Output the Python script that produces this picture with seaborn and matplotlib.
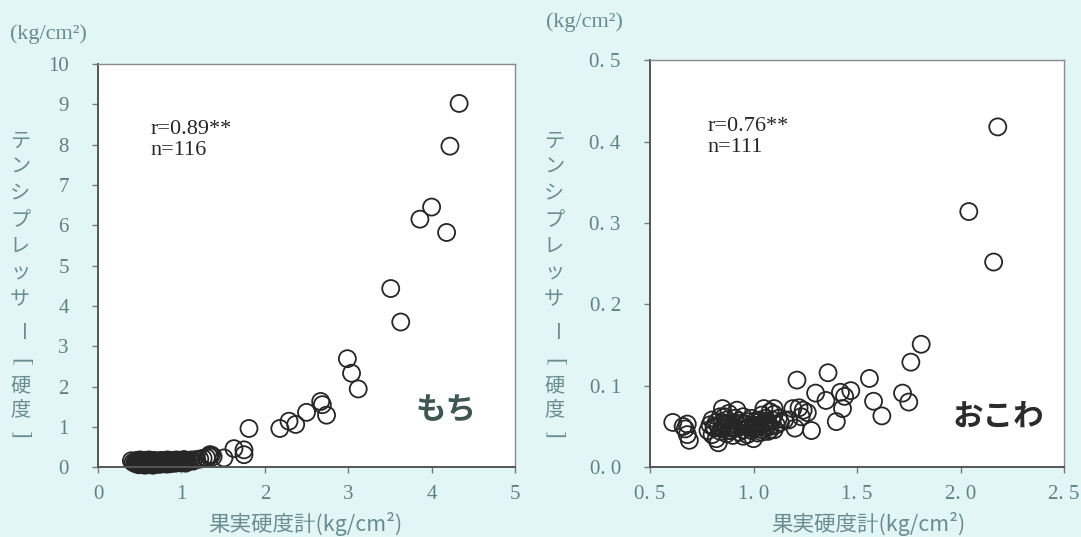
import matplotlib
matplotlib.use("Agg")
import matplotlib.pyplot as plt
import seaborn as sns
import numpy as np

# もち panel data (fruit hardness meter vs tensipresser)
mochi_x = [4.33, 4.22, 4.00, 3.86, 4.18, 3.51, 3.63, 2.99, 3.04, 3.12,
           2.67, 2.69, 2.74, 2.50, 2.29, 2.37, 2.18, 1.81, 1.63, 1.75,
           1.75, 1.51, 1.36, 1.33, 1.30, 1.26, 1.22, 1.18, 1.38, 1.34,
           0.40, 0.42, 0.44, 0.45, 0.46, 0.47, 0.48, 0.49, 0.50, 0.50,
           0.51, 0.52, 0.53, 0.54, 0.55, 0.55, 0.56, 0.57, 0.58, 0.58,
           0.59, 0.60, 0.60, 0.61, 0.62, 0.63, 0.63, 0.64, 0.65, 0.66,
           0.66, 0.67, 0.68, 0.69, 0.70, 0.70, 0.71, 0.72, 0.73, 0.74,
           0.75, 0.76, 0.77, 0.78, 0.79, 0.80, 0.81, 0.82, 0.83, 0.84,
           0.85, 0.86, 0.87, 0.88, 0.89, 0.90, 0.91, 0.92, 0.93, 0.94,
           0.95, 0.96, 0.97, 0.98, 0.99, 1.00, 1.01, 1.02, 1.03, 1.04,
           1.05, 1.06, 1.08, 1.10, 1.12, 0.53, 0.57, 0.61, 0.65, 0.72,
           0.78, 0.84, 0.92, 0.97, 1.05, 1.14]
mochi_y = [9.02, 7.96, 6.45, 6.15, 5.82, 4.43, 3.60, 2.69, 2.33, 1.94,
           1.63, 1.55, 1.29, 1.36, 1.14, 1.06, 0.96, 0.96, 0.46, 0.43,
           0.31, 0.23, 0.30, 0.27, 0.24, 0.22, 0.20, 0.19, 0.26, 0.31,
           0.16, 0.12, 0.10, 0.14, 0.08, 0.17, 0.11, 0.06, 0.13, 0.18,
           0.09, 0.15, 0.07, 0.12, 0.17, 0.10, 0.05, 0.14, 0.08, 0.16,
           0.11, 0.06, 0.13, 0.18, 0.09, 0.15, 0.07, 0.12, 0.10, 0.17,
           0.05, 0.14, 0.09, 0.12, 0.16, 0.08, 0.13, 0.10, 0.15, 0.07,
           0.12, 0.17, 0.09, 0.14, 0.11, 0.16, 0.08, 0.13, 0.18, 0.10,
           0.15, 0.12, 0.09, 0.17, 0.13, 0.11, 0.16, 0.14, 0.10, 0.18,
           0.12, 0.15, 0.13, 0.17, 0.11, 0.14, 0.16, 0.12, 0.19, 0.15,
           0.13, 0.17, 0.14, 0.16, 0.18, 0.10, 0.07, 0.11, 0.06, 0.09,
           0.12, 0.08, 0.11, 0.13, 0.10, 0.15]

# おこわ panel data
okowa_x = [2.18, 2.04, 2.16, 1.81, 1.76, 1.72, 1.75, 1.56, 1.36, 1.21,
           1.58, 1.62, 1.30, 1.35, 1.42, 1.47, 1.44, 1.43, 1.40, 1.28,
           1.20, 1.22, 1.24, 1.26, 1.23, 1.19, 1.17, 0.61, 0.66, 0.68,
           0.68, 0.69, 0.67,
           0.78, 0.79, 0.80, 0.80, 0.81, 0.82, 0.82, 0.83, 0.84, 0.84,
           0.85, 0.85, 0.86, 0.87, 0.87, 0.88, 0.88, 0.89, 0.90, 0.90,
           0.91, 0.91, 0.92, 0.93, 0.93, 0.94, 0.95, 0.95, 0.96, 0.97,
           0.97, 0.98, 0.99, 0.99, 1.00, 1.00, 1.01, 1.02, 1.02, 1.03,
           1.03, 1.04, 1.04, 1.05, 1.05, 1.06, 1.06, 1.07, 1.07, 1.08,
           1.08, 1.09, 1.10, 1.10, 1.11, 1.12, 1.13, 1.15, 0.83, 0.86,
           0.89, 0.92, 0.95, 0.98, 1.01, 1.04, 1.07, 1.10, 0.81, 0.88,
           0.94, 1.00, 1.06, 0.90, 0.96, 1.02, 1.08, 0.85]
okowa_y = [0.418, 0.314, 0.252, 0.151, 0.129, 0.091, 0.080, 0.109, 0.116, 0.107,
           0.081, 0.063, 0.091, 0.082, 0.092, 0.094, 0.087, 0.072, 0.056, 0.045,
           0.048, 0.073, 0.070, 0.067, 0.062, 0.072, 0.058, 0.055, 0.050, 0.053,
           0.040, 0.033, 0.047,
           0.045, 0.052, 0.040, 0.058, 0.048, 0.035, 0.055, 0.050, 0.044, 0.062,
           0.047, 0.072, 0.053, 0.041, 0.058, 0.050, 0.066, 0.045, 0.054, 0.039,
           0.060, 0.048, 0.052, 0.043, 0.057, 0.050, 0.046, 0.062, 0.053, 0.040,
           0.056, 0.049, 0.045, 0.060, 0.052, 0.035, 0.048, 0.055, 0.042, 0.058,
           0.050, 0.064, 0.046, 0.053, 0.072, 0.049, 0.060, 0.044, 0.055, 0.068,
           0.050, 0.058, 0.046, 0.065, 0.052, 0.060, 0.055, 0.058, 0.030, 0.062,
           0.048, 0.070, 0.038, 0.051, 0.057, 0.043, 0.052, 0.072, 0.050, 0.045,
           0.054, 0.047, 0.056, 0.049, 0.053, 0.051, 0.046, 0.055]

mochi_xticks = [0, 1, 2, 3, 4, 5]
mochi_yticks = [0, 1, 2, 3, 4, 5, 6, 7, 8, 9, 10]
okowa_xticks = [0.5, 1.0, 1.5, 2.0, 2.5]
okowa_xticklabels = ["0. 5", "1. 0", "1. 5", "2. 0", "2. 5"]
okowa_yticks = [0.0, 0.1, 0.2, 0.3, 0.4, 0.5]
okowa_yticklabels = ["0. 0", "0. 1", "0. 2", "0. 3", "0. 4", "0. 5"]

# vertical y label: characters, rotation of each glyph
ylabel_chars = ["テ", "ン", "シ", "プ", "レ", "ッ", "サ", "ー", "[", "硬", "度", "]"]
ylabel_rot = [0, 0, 0, 0, 0, 0, 0, -90, -90, 0, 0, -90]
ylabel_pix = [141, 167, 194, 221, 247, 273, 300, 332, 362, 386, 410, 434]
xlabel = "果実硬度計(kg/cm²)"
unit_label = "(kg/cm²)"

sns.set_theme(style="white")
plt.rcParams["font.family"] = ["Noto Sans CJK JP", "DejaVu Sans"]

bg = "#e2f6f6"
tick_col = "#5f8085"
label_col = "#6a8c90"
num_font = ["Liberation Serif", "Noto Sans CJK JP"]
W, H = 1081, 537

fig = plt.figure(figsize=(10.81, 5.37), dpi=100, facecolor=bg)
ax1 = fig.add_axes([0.0907, 0.130, 0.3857, 0.751])
ax2 = fig.add_axes([0.6013, 0.130, 0.3830, 0.758])

for ax, xs, ys in [(ax1, mochi_x, mochi_y), (ax2, okowa_x, okowa_y)]:
    ax.set_facecolor("white")
    sns.scatterplot(x=xs, y=ys, ax=ax, s=150, facecolor="none",
                    edgecolor="#262626", linewidth=1.3, clip_on=False)
    for side in ["left", "bottom"]:
        ax.spines[side].set_color("#555555")
        ax.spines[side].set_linewidth(1.4)
    for side in ["top", "right"]:
        ax.spines[side].set_color("#8a8a8a")
        ax.spines[side].set_linewidth(1.0)
    ax.tick_params(axis="both", direction="out", length=4, width=1,
                   color="#777777", labelcolor=tick_col, labelsize=15,
                   left=True, bottom=True)
    ax.tick_params(axis="y", pad=17)
    ax.tick_params(axis="x", pad=9)

ax1.set_xlim(0, 5)
ax1.set_ylim(0, 10)
ax1.set_xticks(mochi_xticks)
ax1.set_xticklabels([str(t) for t in mochi_xticks], family=num_font)
ax1.set_yticks(mochi_yticks)
ax1.set_yticklabels([str(t) for t in mochi_yticks], family=num_font)

ax2.set_xlim(0.5, 2.5)
ax2.set_ylim(0, 0.5)
ax2.set_xticks(okowa_xticks)
ax2.set_xticklabels(okowa_xticklabels, family=num_font)
ax2.set_yticks(okowa_yticks)
ax2.set_yticklabels(okowa_yticklabels, family=num_font)

# statistics text
ax1.text(0.125, 0.86, "r=0.89**\nn=116", transform=ax1.transAxes,
         fontsize=16, family=num_font, va="top", linespacing=1.1)
ax2.text(0.14, 0.86, "r=0.76**\nn=111", transform=ax2.transAxes,
         fontsize=16, family=num_font, va="top", linespacing=1.1)

# panel names
ax1.text(0.835, 0.14, "もち", transform=ax1.transAxes, fontsize=22,
         fontweight="bold", color="#3f5753", ha="center", va="center")
ax2.text(0.84, 0.125, "おこわ", transform=ax2.transAxes, fontsize=22,
         fontweight="bold", color="#2b2b2b", ha="center", va="center")

# vertical axis labels, one glyph at a time
for xc in [20, 554]:
    for ch, rot, yp in zip(ylabel_chars, ylabel_rot, ylabel_pix):
        if ch in "[]":
            fig.text(xc / W, 1 - yp / H, ch, fontsize=17, color=label_col,
                     ha="center", va="center", rotation=rot,
                     family=num_font)
        else:
            fig.text(xc / W, 1 - yp / H, ch, fontsize=14.5, color=label_col,
                     ha="center", va="center", rotation=rot)

fig.text(305 / W, 1 - 524 / H, xlabel, fontsize=15.5, color=label_col,
         ha="center", va="center")
fig.text(868 / W, 1 - 524 / H, xlabel, fontsize=15.5, color=label_col,
         ha="center", va="center")
fig.text(48 / W, 1 - 34 / H, unit_label, fontsize=16, color=label_col,
         ha="center", va="center", family=num_font)
fig.text(584 / W, 1 - 22 / H, unit_label, fontsize=16, color=label_col,
         ha="center", va="center", family=num_font)

fig.savefig("out.png", dpi=100, facecolor=bg)
plt.close(fig)
